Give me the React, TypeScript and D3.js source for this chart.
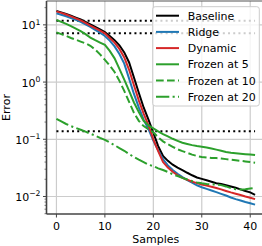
import React from 'react';
import * as d3 from 'd3';

const samples = d3.range(0, 42);

const baseline = [17.5, 16.5, 15.5, 14.5, 13.4, 12.4, 11.3, 10.2, 9.2, 8.3, 7.5, 6.4, 5.4, 4.4, 3.3, 2.2, 1.2, 0.65, 0.36, 0.22,
    0.13, 0.076, 0.051, 0.042, 0.036, 0.032, 0.029, 0.026, 0.0235, 0.0215, 0.0203, 0.0192, 0.0181, 0.0170, 0.0166, 0.0157,
    0.0149, 0.0142, 0.0133, 0.0125, 0.0118, 0.0107];
const ridge = [15.9, 15.0, 14.1, 13.2, 12.3, 11.3, 10.2, 9.2, 8.2, 7.3, 6.4, 5.3, 4.2, 3.1, 2.1, 1.15, 0.62, 0.36, 0.22, 0.15,
    0.095, 0.064, 0.045, 0.035, 0.029, 0.025, 0.0218, 0.0194, 0.0174, 0.0157, 0.0145, 0.0136, 0.0127, 0.0119, 0.0111, 0.0104,
    0.0096, 0.0090, 0.0085, 0.0080, 0.0076, 0.0072];
const dynamic = [17.2, 16.2, 15.2, 14.1, 13.0, 12.0, 10.8, 9.7, 8.8, 7.9, 7.1, 5.9, 4.9, 3.8, 2.7, 1.64, 0.88, 0.48, 0.28, 0.175,
    0.10, 0.062, 0.040, 0.032, 0.027, 0.0235, 0.0212, 0.0196, 0.0182, 0.0171, 0.0162, 0.0155, 0.0148, 0.0141, 0.0133, 0.0125,
    0.0118, 0.0112, 0.0106, 0.0100, 0.0095, 0.0090];
const frozen5 = [12.2, 11.3, 10.4, 9.5, 8.6, 7.8, 6.9, 6.0, 5.4, 4.9, 4.47, 3.5, 2.6, 1.7, 1.1, 0.7, 0.44, 0.30, 0.21, 0.175,
    0.155, 0.138, 0.123, 0.112, 0.102, 0.094, 0.087, 0.083, 0.079, 0.076, 0.074, 0.072, 0.069, 0.066, 0.063, 0.060,
    0.058, 0.057, 0.056, 0.055, 0.054, 0.053];
const frozen10 = [7.4, 6.9, 6.4, 5.9, 5.5, 5.1, 4.75, 4.3, 3.7, 3.05, 2.45, 1.95, 1.5, 1.05, 0.7, 0.45, 0.29, 0.21, 0.17, 0.15,
    0.133, 0.108, 0.092, 0.082, 0.074, 0.067, 0.062, 0.058, 0.054, 0.051, 0.049, 0.048, 0.047, 0.047, 0.046, 0.045,
    0.044, 0.043, 0.042, 0.041, 0.040, 0.039];
const frozen20 = [0.228, 0.205, 0.185, 0.170, 0.158, 0.147, 0.136, 0.125, 0.116, 0.106, 0.098, 0.088, 0.079, 0.070, 0.063, 0.055,
    0.049, 0.044, 0.040, 0.036, 0.034, 0.031, 0.029, 0.0268, 0.0245, 0.0228, 0.0212, 0.0198, 0.0186, 0.0176, 0.0170, 0.0166,
    0.0163, 0.0161, 0.0158, 0.0150, 0.0140, 0.0134, 0.0133, 0.0134, 0.0138, 0.0141];

// horizontal dotted reference levels
const refLevels = [11.8, 7.14, 0.138];

const xTicks = [0, 10, 20, 30, 40];
const yTickExps = [1, 0, -1, -2];

const series = [
    { name: 'Baseline', values: baseline, color: '#000000', dash: null },
    { name: 'Ridge', values: ridge, color: '#1f77b4', dash: null },
    { name: 'Dynamic', values: dynamic, color: '#d62728', dash: null },
    { name: 'Frozen at 5', values: frozen5, color: '#2ca02c', dash: null },
    { name: 'Frozen at 10', values: frozen10, color: '#2ca02c', dash: '7.7 3.3' },
    { name: 'Frozen at 20', values: frozen20, color: '#2ca02c', dash: '13.3 3.3 2.1 3.3' },
];

const width = 262;
const height = 246;
const left = 46.5;
const right = 265;
const top = 1;
const bottom = 214;
const font = 'DejaVu Sans, sans-serif';

export default function App() {
    const x = d3.scaleLinear().domain([-2.05, 43.05]).range([left, right]);
    const y = d3.scaleLog().domain([Math.pow(10, -2.306), Math.pow(10, 1.417)]).range([bottom, top]);

    const line = d3.line<number>()
        .x((d, i) => x(samples[i]))
        .y(d => y(d));

    const minorTicks: number[] = [];
    for (let e = -3; e <= 1; e++) {
        for (let m = 2; m <= 9; m++) {
            const v = m * Math.pow(10, e);
            if (y(v) >= top && y(v) <= bottom) minorTicks.push(v);
        }
    }

    const legendX = 152.7;
    const legendY = 6.7;
    const rowH = 16.2;

    return (
        <svg width={width} height={height} style={{ position: 'absolute', left: 0, top: 0 }} fontFamily={font}>
            <rect width={width} height={height} fill="#fff" />
            {/* grid */}
            {xTicks.map(t => (
                <line key={'gx' + t} x1={x(t)} x2={x(t)} y1={top} y2={bottom} stroke="#cccccc" strokeWidth={1.2} />
            ))}
            {yTickExps.map(e => (
                <line key={'gy' + e} x1={left} x2={right} y1={y(Math.pow(10, e))} y2={y(Math.pow(10, e))} stroke="#cccccc" strokeWidth={1.2} />
            ))}

            {refLevels.map((v, i) => (
                <line key={'ref' + i} x1={x(samples[0])} x2={x(samples[samples.length - 1])} y1={y(v)} y2={y(v)}
                    stroke="#000" strokeWidth={2} strokeDasharray="2 3.2" />
            ))}

            {series.map(s => (
                <path key={s.name} d={line(s.values) || ''} fill="none" stroke={s.color} strokeWidth={2}
                    strokeDasharray={s.dash || undefined} />
            ))}

            {/* spines */}
            <line x1={left} x2={right} y1={top} y2={top} stroke="#555" strokeWidth={1.2} />
            <line x1={left} x2={left} y1={top} y2={bottom} stroke="#444" strokeWidth={1.6} />
            <line x1={left} x2={right} y1={bottom} y2={bottom} stroke="#444" strokeWidth={1.6} />

            {/* x axis */}
            {xTicks.map(t => (
                <g key={'xt' + t}>
                    <line x1={x(t)} x2={x(t)} y1={bottom} y2={bottom + 3.5} stroke="#444" strokeWidth={1} />
                    <text x={x(t)} y={229.5} fontSize={11} textAnchor="middle" fill="#000">{t}</text>
                </g>
            ))}
            <text x={(left + right) / 2} y={242.5} fontSize={11} textAnchor="middle">Samples</text>

            {/* y axis */}
            {minorTicks.map((v, i) => (
                <line key={'mt' + i} x1={left - 2} x2={left} y1={y(v)} y2={y(v)} stroke="#444" strokeWidth={0.7} />
            ))}
            {yTickExps.map(e => {
                const yy = y(Math.pow(10, e));
                return (
                    <g key={'yt' + e}>
                        <line x1={left - 3.5} x2={left} y1={yy} y2={yy} stroke="#444" strokeWidth={1} />
                        <text x={40.5} y={yy + 4.5} fontSize={11} textAnchor="end">
                            <tspan>10</tspan>
                            <tspan fontSize={7.7} dy={-4.5}>{e < 0 ? '\u2212' + Math.abs(e) : String(e)}</tspan>
                        </text>
                    </g>
                );
            })}
            <text transform={`translate(10,${(top + bottom) / 2}) rotate(-90)`} fontSize={11} textAnchor="middle">Error</text>

            {/* legend */}
            <rect x={legendX} y={legendY} width={106.6} height={99.3} rx={2.5} fill="#fff" fillOpacity={0.8}
                stroke="#cccccc" strokeWidth={1} />
            {series.map((s, i) => {
                const ry = legendY + 9 + i * rowH;
                return (
                    <g key={'lg' + s.name}>
                        <line x1={156} x2={179} y1={ry} y2={ry} stroke={s.color} strokeWidth={2}
                            strokeDasharray={s.dash || undefined} />
                        <text x={187.7} y={ry + 4} fontSize={11}>{s.name}</text>
                    </g>
                );
            })}
        </svg>
    );
}
